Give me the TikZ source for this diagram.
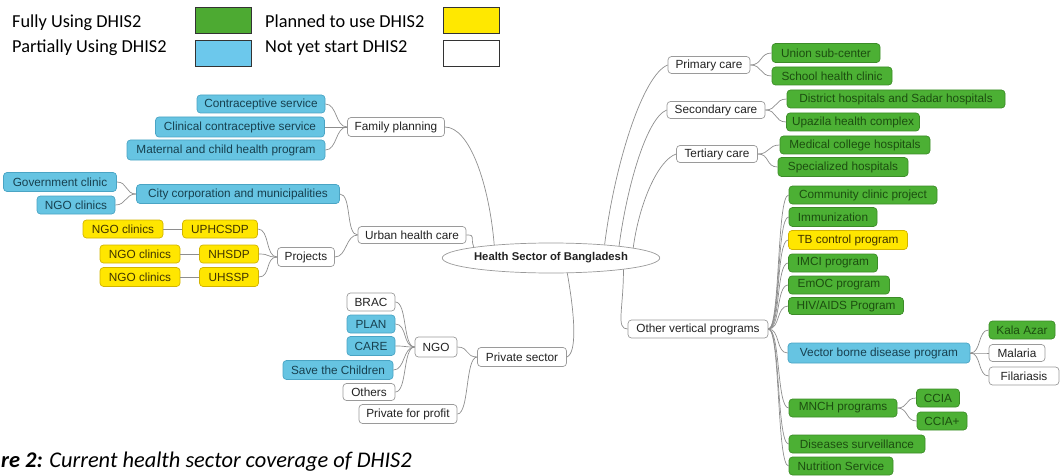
\documentclass[tikz,border=0pt]{standalone}
\usepackage{fontspec}
\setmainfont{Liberation Sans}
\newfontfamily\calib{Carlito}
\usetikzlibrary{shapes.geometric}
\definecolor{lgreen}{HTML}{4DAA32}
\definecolor{lblue}{HTML}{6CC8EC}
\definecolor{lyellow}{HTML}{FFE800}
\definecolor{gfill}{HTML}{4CB034}
\definecolor{gdraw}{HTML}{3C8C28}
\definecolor{gtext}{HTML}{1C4E10}
\definecolor{bfill}{HTML}{66C4E2}
\definecolor{bdraw}{HTML}{4AA4C4}
\definecolor{btext}{HTML}{17404F}
\definecolor{yfill}{HTML}{FFE600}
\definecolor{ydraw}{HTML}{D2B400}
\definecolor{ytext}{HTML}{403400}
\definecolor{wdraw}{HTML}{9A9A9A}
\definecolor{wtext}{HTML}{222222}
\definecolor{lncol}{HTML}{8E8E8E}
\begin{document}
\begin{tikzpicture}[x=1pt,y=-1pt,
  nd/.style={rounded corners=3.5pt, inner sep=0pt, line width=0.7pt,
    font=\fontsize{11.8}{13}\selectfont, anchor=center},
  wd/.style={minimum width=#1},
  ht/.style={minimum height=#1},
  gn/.style={nd, fill=gfill, draw=gdraw, text=gtext},
  bn/.style={nd, fill=bfill, draw=bdraw, text=btext},
  yn/.style={nd, fill=yfill, draw=ydraw, text=ytext},
  wn/.style={nd, fill=white, draw=wdraw, text=wtext},
  cn/.style={draw=lncol, line width=0.7pt},
  legbox/.style={draw=black!80, line width=0.6pt, minimum width=56pt, minimum height=26pt, inner sep=0pt},
  legtext/.style={anchor=base west, inner sep=0pt, font=\calib\fontsize{18.3}{21}\selectfont},
]
\useasboundingbox (0,0) rectangle (1060,476);

% legend
\node[legtext] (lt1) at (12,28) {Fully Using DHIS2};
\node[legtext] (lt2) at (12,53) {Partially Using DHIS2};
\node[legtext] (lt3) at (265,28) {Planned to use DHIS2};
\node[legtext] (lt4) at (265,53) {Not yet start DHIS2};
\node[legbox, fill=lgreen] (lb1) at (223,20) {};
\node[legbox, fill=lblue] (lb2) at (223,53) {};
\node[legbox, fill=lyellow] (lb3) at (471,20) {};
\node[legbox, fill=white] (lb4) at (471,53) {};

% centre
\node[ellipse, draw=wdraw, line width=0.7pt, fill=white, minimum width=187pt, minimum height=30pt, inner sep=0pt,
  font=\bfseries\fontsize{11.3}{13}\selectfont, text=wtext] (hs) at (551,258) {Health Sector of Bangladesh};

% left: family planning
\node[wn, wd=97, ht=19] (fp) at (396,127) {Family planning};
\node[bn, wd=128, ht=18] (cs) at (261,104) {Contraceptive service};
\node[bn, wd=169, ht=20] (ccs) at (240,127) {Clinical contraceptive service};
\node[bn, wd=198, ht=20] (mchp) at (226,150) {Maternal and child health program};

% left: urban health care
\node[wn, wd=108, ht=17] (uhc) at (412,235) {Urban health care};
\node[bn, wd=203, ht=19] (cc) at (238,194) {City corporation and municipalities};
\node[bn, wd=113, ht=19] (gov) at (60,182) {Government clinic};
\node[bn, wd=78, ht=18] (ngob) at (76,205) {NGO clinics};
\node[wn, wd=57, ht=19] (proj) at (306,257) {Projects};
\node[yn, wd=75, ht=18] (uph) at (220,229) {UPHCSDP};
\node[yn, wd=59, ht=18] (nhs) at (229,254) {NHSDP};
\node[yn, wd=59, ht=19] (uhs) at (229,277) {UHSSP};
\node[yn, wd=80, ht=18] (ny1) at (123,229) {NGO clinics};
\node[yn, wd=80, ht=18] (ny2) at (140,254) {NGO clinics};
\node[yn, wd=80, ht=19] (ny3) at (140,277) {NGO clinics};

% left: private sector
\node[wn, wd=89, ht=19] (ps) at (522,357) {Private sector};
\node[wn, wd=42, ht=20] (ngo) at (436,347) {NGO};
\node[wn, wd=48, ht=18] (brac) at (371,302) {BRAC};
\node[bn, wd=48, ht=18] (plan) at (371,324) {PLAN};
\node[bn, wd=48, ht=19] (care) at (371,346) {CARE};
\node[bn, wd=110, ht=19] (stc) at (338,370) {Save the Children};
\node[wn, wd=52, ht=17] (oth) at (369,392) {Others};
\node[wn, wd=98, ht=19] (pfp) at (408,414) {Private for profit};

% right
\node[wn, wd=82, ht=17] (pc) at (709,65) {Primary care};
\node[gn, wd=108, ht=19] (usc) at (826,53) {Union sub-center};
\node[gn, wd=120, ht=18] (shc) at (832,76) {School health clinic};
\node[wn, wd=98, ht=17] (sc) at (716,110) {Secondary care};
\node[gn, wd=218, ht=18] (dh) at (896,99) {District hospitals and Sadar hospitals};
\node[gn, wd=133, ht=18] (uz) at (853,122) {Upazila health complex};
\node[wn, wd=81, ht=17] (tc) at (717,154) {Tertiary care};
\node[gn, wd=150, ht=18] (mc) at (855,145) {Medical college hospitals};
\node[gn, wd=130, ht=19] (sh) at (843,167) {Specialized hospitals};
\node[wn, wd=140, ht=18] (ovp) at (698,329) {Other vertical programs};
\node[gn, wd=148, ht=18] (ccp) at (863,195) {Community clinic project};
\node[gn, wd=88, ht=19] (imm) at (833,217) {Immunization};
\node[yn, wd=119, ht=19] (tb) at (848,240) {TB control program};
\node[gn, wd=89, ht=18] (imci) at (833,263) {IMCI program};
\node[gn, wd=101, ht=18] (emoc) at (839,285) {EmOC program};
\node[gn, wd=115, ht=17] (hiv) at (846,306) {HIV/AIDS Program};
\node[bn, wd=182, ht=20] (vbd) at (879,353) {Vector borne disease program};
\node[gn, wd=66, ht=18] (kala) at (1022,330) {Kala Azar};
\node[wn, wd=56, ht=17] (mal) at (1017,353) {Malaria};
\node[wn, wd=70, ht=18] (fil) at (1024,376) {Filariasis};
\node[gn, wd=108, ht=18] (mnch) at (843,408) {MNCH programs};
\node[gn, wd=43, ht=18] (ccia) at (938,398) {CCIA};
\node[gn, wd=50, ht=18] (cciap) at (942,421) {CCIA+};
\node[gn, wd=136, ht=18] (dsv) at (857,444) {Diseases surveillance};
\node[gn, wd=104, ht=18] (nut) at (841,466) {Nutrition Service};

% caption
\node[anchor=base west, inner sep=0pt, font=\calib\itshape\fontsize{22.4}{27}\selectfont] (cap) at (1,467)
  {\textbf{re 2:} Current health sector coverage of DHIS2};

% connectors: centre
\draw[cn] (hs.167) .. controls +(-5,-60) and +(25,0) .. (fp.east);
\draw[cn] (hs.172) .. controls +(-4,-10) and +(10,0) .. (uhc.east);
\draw[cn] (hs.-43) .. controls +(8,45) and +(10,-4) .. (ps.east);
\draw[cn] (hs.14) .. controls +(10,-80) and +(-25,10) .. (pc.west);
\draw[cn] (hs.10) .. controls +(8,-60) and +(-20,8) .. (sc.west);
\draw[cn] (hs.7) .. controls +(6,-45) and +(-18,6) .. (tc.west);
\draw[cn] (hs.-9) .. controls +(0,40) and +(-12,0) .. (ovp.west);

% connectors: left brackets
\foreach \c in {cs,ccs,mchp} \draw[cn] (fp.west) .. controls +(-12,0) and +(12,0) .. (\c.east);
\foreach \c in {cc,proj} \draw[cn] (uhc.west) .. controls +(-12,0) and +(12,0) .. (\c.east);
\foreach \c in {gov,ngob} \draw[cn] (cc.west) .. controls +(-11,0) and +(11,0) .. (\c.east);
\foreach \c in {uph,nhs,uhs} \draw[cn] (proj.west) .. controls +(-12,0) and +(12,0) .. (\c.east);
\draw[cn] (ny1.east) -- (uph.west);
\draw[cn] (ny2.east) -- (nhs.west);
\draw[cn] (ny3.east) -- (uhs.west);
\foreach \c in {ngo,pfp} \draw[cn] (ps.west) .. controls +(-12,0) and +(12,0) .. (\c.east);
\foreach \c in {brac,plan,care,stc,oth} \draw[cn] (ngo.west) .. controls +(-12,0) and +(12,0) .. (\c.east);

% connectors: right brackets
\foreach \c in {usc,shc} \draw[cn] (pc.east) .. controls +(12,0) and +(-12,0) .. (\c.west);
\foreach \c in {dh,uz} \draw[cn] (sc.east) .. controls +(12,0) and +(-12,0) .. (\c.west);
\foreach \c in {mc,sh} \draw[cn] (tc.east) .. controls +(12,0) and +(-12,0) .. (\c.west);
\foreach \c in {ccp,imm,tb,imci,emoc,hiv,vbd,mnch,dsv,nut} \draw[cn] (ovp.east) .. controls +(12,0) and +(-12,0) .. (\c.west);
\foreach \c in {kala,mal,fil} \draw[cn] (vbd.east) .. controls +(11,0) and +(-11,0) .. (\c.west);
\foreach \c in {ccia,cciap} \draw[cn] (mnch.east) .. controls +(11,0) and +(-11,0) .. (\c.west);
\end{tikzpicture}
\end{document}
